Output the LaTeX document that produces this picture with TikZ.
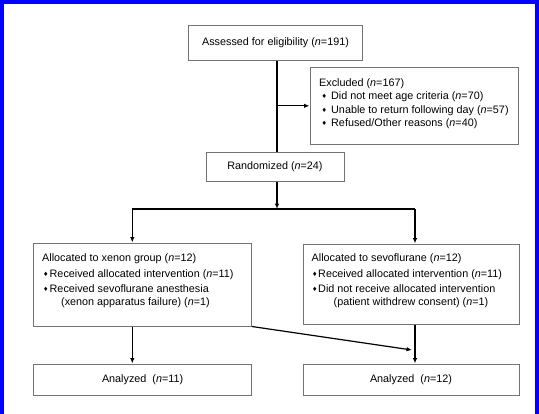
\documentclass[tikz,border=0pt]{standalone}
\usepackage{fontspec}
\setmainfont{Liberation Sans}
\newfontfamily\djv{DejaVu Sans}
\usetikzlibrary{arrows.meta}
\newcommand\dmd[1]{\makebox[#1][l]{\raisebox{0.8pt}{\djv\fontsize{6}{6}\selectfont ♦}}}
\newcommand\nn{\textit{n}}
\begin{document}
\begin{tikzpicture}[x=1pt,y=-1pt,
  font=\fontsize{10.8}{12}\selectfont,
  box/.style={draw=black!55,line width=1pt,inner sep=0pt},
  conn/.style={draw=black,line width=1.2pt},
  arr/.style={-{Latex[length=5.5pt,width=4.5pt]}},
  txt/.style={anchor=base west,inner sep=0pt}]
\useasboundingbox (0,0) rectangle (539,413);
\fill[white] (0,0) rectangle (539,413);
\draw[blue,line width=3.5pt] (1.75,420) -- (1.75,1.75) -- (537,1.75) -- (537,420);

% boxes
\node[box,minimum width=174pt,minimum height=35.5pt] (assess) at (275.5,42.8) {Assessed for eligibility (\nn=191)};
\node[box,minimum width=208pt,minimum height=77.5pt] (excl) at (414,105.8) {};
\node[box,minimum width=138pt,minimum height=28.6pt] (rand) at (275,167) {Randomized (\nn=24)};
\node[box,minimum width=218pt,minimum height=83pt] (xen) at (142.4,284.5) {};
\node[box,minimum width=216pt,minimum height=80pt] (sevo) at (411,284) {};
\node[box,minimum width=218.5pt,minimum height=31pt] (an1) at (142.6,379.5) {Analyzed\ \ (\nn=11)};
\node[box,minimum width=216pt,minimum height=31pt] (an2) at (411,379.5) {Analyzed\ \ (\nn=12)};

% excluded text
\node[txt] (e1) at (319,86) {Excluded (\nn=167)};
\node[txt] (e2) at (321.5,99.5) {\dmd{9.5pt}Did not meet age criteria (\nn=70)};
\node[txt] (e3) at (321.5,113) {\dmd{9.5pt}Unable to return following day (\nn=57)};
\node[txt] (e4) at (321.5,126.5) {\dmd{9.5pt}Refused/Other reasons (\nn=40)};

% xenon text
\node[txt] (x1) at (42,261) {Allocated to xenon group (\nn=12)};
\node[txt] (x2) at (43,277) {\dmd{6.5pt}Received allocated intervention (\nn=11)};
\node[txt] (x3) at (43,292) {\dmd{6.5pt}Received sevoflurane anesthesia};
\node[txt] (x4) at (61,305.5) {(xenon apparatus failure) (\nn=1)};

% sevoflurane text
\node[txt] (s1) at (311.5,261) {Allocated to sevoflurane (\nn=12)};
\node[txt] (s2) at (312,277) {\dmd{6pt}Received allocated intervention (\nn=11)};
\node[txt] (s3) at (312,292) {\dmd{6pt}Did not receive allocated intervention};
\node[txt] (s4) at (333.5,305.5) {(patient withdrew consent) (\nn=1)};

% connectors
\coordinate (tk) at (277,0);
\draw[conn] (tk |- assess.south) -- (tk |- rand.north);
\draw[conn,arr] (tk |- excl.west) -- (excl.west);
\coordinate (split) at (277,209);
\coordinate (sl) at (132.3,209);
\coordinate (sr) at (415,209);
\draw[conn,arr] (tk |- rand.south) -- (split);
\draw[conn] (sl) -- (sr);
\draw[conn,arr] (sl) -- (sl |- xen.north);
\draw[conn,arr] (sr) -- (sr |- sevo.north);
\draw[conn,arr] (sl |- xen.south) -- (sl |- an1.north);
\draw[conn,arr] (sr |- sevo.south) -- (sr |- an2.north);
\coordinate (dj) at (412,350);
\draw[conn,arr] (xen.south east) -- (dj);
\end{tikzpicture}
\end{document}
